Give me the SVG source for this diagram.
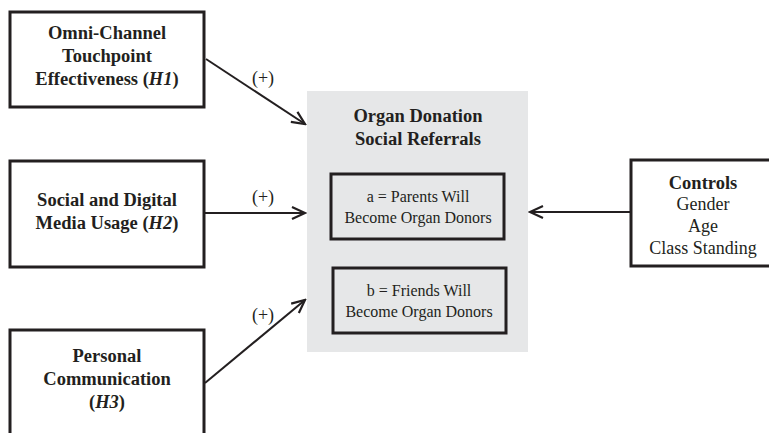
<svg xmlns="http://www.w3.org/2000/svg" width="769" height="433" viewBox="0 0 769 433">
<defs>
<style>
.box{fill:#fff;stroke:#231f20;stroke-width:3}
.ibox{fill:none;stroke:#231f20;stroke-width:3}
.t{font-family:"Liberation Serif","Times New Roman",serif;fill:#231f20;text-anchor:middle}
.b{font-weight:bold;font-size:18.5px}
.r{font-size:18px}
.s{font-size:16px}
.conn{stroke:#231f20;stroke-width:2;fill:none;marker-end:url(#ah)}
</style>
<marker id="ah" markerWidth="16" markerHeight="14" refX="14" refY="7" orient="auto" markerUnits="userSpaceOnUse">
<polyline points="1,1 14,7 1,13" fill="none" stroke="#231f20" stroke-width="2.2"/>
</marker>
</defs>
<rect width="769" height="433" fill="#fff"/>
<g id="outcome">
<rect x="307" y="91" width="221" height="261" fill="#e6e7e8"/>
<text class="t b" x="418" y="122">Organ Donation</text>
<text class="t b" x="418" y="145">Social Referrals</text>
</g>
<g id="a">
<rect class="ibox" x="331" y="174" width="173" height="65"/>
<text class="t s" x="418" y="202">a = Parents Will</text>
<text class="t s" x="418" y="223">Become Organ Donors</text>
</g>
<g id="b">
<rect class="ibox" x="333" y="268" width="173" height="65"/>
<text class="t s" x="419" y="296">b = Friends Will</text>
<text class="t s" x="419" y="317">Become Organ Donors</text>
</g>
<g id="h1">
<rect class="box" x="10" y="12" width="194" height="95"/>
<text class="t b" x="107" y="39">Omni-Channel</text>
<text class="t b" x="107" y="62">Touchpoint</text>
<text class="t b" x="107" y="85">Effectiveness (<tspan font-style="italic">H1</tspan>)</text>
</g>
<g id="h2">
<rect class="box" x="10" y="161" width="194" height="106"/>
<text class="t b" x="107" y="206">Social and Digital</text>
<text class="t b" x="107" y="229">Media Usage (<tspan font-style="italic">H2</tspan>)</text>
</g>
<g id="h3">
<rect class="box" x="10" y="330" width="194" height="120"/>
<text class="t b" x="107" y="362">Personal</text>
<text class="t b" x="107" y="385">Communication</text>
<text class="t b" x="107" y="408">(<tspan font-style="italic">H3</tspan>)</text>
</g>
<g id="controls">
<rect class="box" x="631" y="160" width="150" height="106"/>
<text class="t b" x="703" y="189">Controls</text>
<text class="t r" x="703" y="210">Gender</text>
<text class="t r" x="703" y="232">Age</text>
<text class="t r" x="703" y="254">Class Standing</text>
</g>
<g id="connectors">
<line class="conn" x1="206" y1="59" x2="305" y2="124"/>
<line class="conn" x1="205" y1="213" x2="305" y2="213"/>
<line class="conn" x1="205" y1="383" x2="305" y2="300"/>
<line class="conn" x1="630" y1="212" x2="530" y2="212"/>
<text class="t r" x="263" y="84">(+)</text>
<text class="t r" x="263" y="203">(+)</text>
<text class="t r" x="263" y="321">(+)</text>
</g>
</svg>
